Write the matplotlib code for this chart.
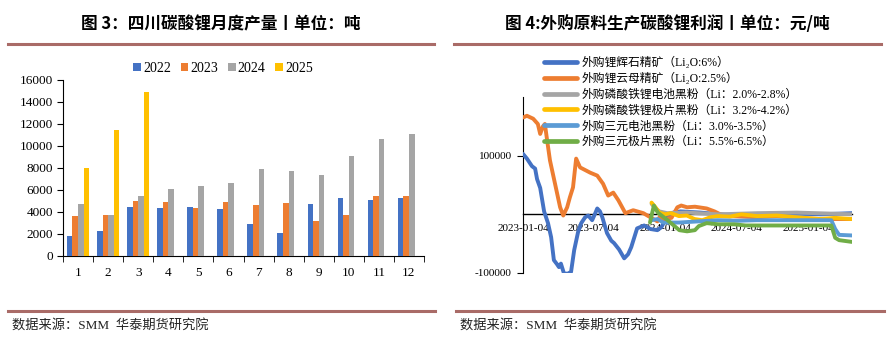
import matplotlib
matplotlib.use("Agg")
import matplotlib.pyplot as plt
import numpy as np
import pandas as pd
from matplotlib.lines import Line2D

# ---------------- data: left chart ----------------
months = list(range(1, 13))
month_labels = [str(m) for m in months]
prod_2022 = [1850, 2250, 4500, 4350, 4450, 4300, 2900, 2050, 4750, 5300, 5100, 5250]
prod_2023 = [3600, 3700, 5000, 4900, 4400, 4950, 4650, 4850, 3200, 3700, 5450, 5500]
prod_2024 = [4700, 3700, 5500, 6100, 6400, 6600, 7900, 7700, 7350, 9050, 10600, 11100]
prod_2025 = [8000, 11500, 14900]
years = ["2022", "2023", "2024", "2025"]

# ---------------- data: right chart ----------------
spod_dates = ["2023-01-04", "2023-01-14", "2023-01-27", "2023-02-04", "2023-02-09", "2023-02-17",
              "2023-02-27", "2023-03-09", "2023-03-17", "2023-03-24", "2023-04-01", "2023-04-06",
              "2023-04-11", "2023-04-19", "2023-04-29", "2023-05-07", "2023-05-15", "2023-05-25",
              "2023-06-02", "2023-06-12", "2023-06-20", "2023-06-30", "2023-07-08", "2023-07-13",
              "2023-07-20", "2023-07-26", "2023-08-07", "2023-08-18", "2023-08-25", "2023-09-07",
              "2023-09-20", "2023-09-30", "2023-10-08", "2023-10-23", "2023-11-10", "2023-11-26",
              "2023-12-14", "2023-12-24", "2024-01-03", "2024-01-16", "2024-02-11", "2024-04-02",
              "2024-05-23", "2024-07-13", "2024-10-24", "2025-02-04", "2025-04-25"]
spod_vals = [103000, 95000, 82000, 78000, 60000, 45000,
             5000, -15000, -39000, -78000, -85000, -90000,
             -84000, -101000, -101000, -98000, -61000, -30000,
             -15000, -5000, -2000, -10000, 2000, 10000,
             5000, -5000, -32000, -45000, -49000, -60000,
             -75000, -68000, -56000, -24000, -19000, -25000,
             -27000, -22000, -10000, 2000, 5000, 3000,
             0, -2000, 2000, 0, 2000]

lepi_dates = ["2023-01-04", "2023-01-14", "2023-01-30", "2023-02-11", "2023-02-17", "2023-02-24",
              "2023-03-01", "2023-03-07", "2023-03-14", "2023-03-27", "2023-04-09", "2023-04-17",
              "2023-04-27", "2023-05-04", "2023-05-12", "2023-05-20", "2023-05-30", "2023-06-25",
              "2023-07-13", "2023-07-28", "2023-08-10", "2023-08-23", "2023-09-05", "2023-09-23",
              "2023-10-13", "2023-11-08", "2023-12-01", "2023-12-14", "2023-12-20", "2023-12-30",
              "2024-01-19", "2024-02-03", "2024-02-13", "2024-02-28", "2024-03-19", "2024-04-18",
              "2024-05-08", "2024-05-23", "2024-06-17", "2024-08-26", "2024-10-15", "2024-12-04",
              "2025-02-02", "2025-04-25"]
lepi_vals = [165000, 168000, 163000, 154000, 137000, 150000,
             154000, 125000, 92000, 52000, 12000, -2000,
             12000, 29000, 46000, 95000, 80000, 71000,
             66000, 52000, 32000, 37000, 24000, 2000,
             7000, 2000, -7000, -12000, -4000, -8000,
             -6000, 12000, 15000, 12000, 13000, 10000,
             5000, 0, -3000, -5000, -3000, -6000,
             -8000, -8000]

lfp_bat_dates = ["2023-11-29", "2023-12-09", "2023-12-19", "2024-01-08", "2024-02-27", "2024-05-18",
                 "2024-08-26", "2024-12-04", "2025-03-14", "2025-04-25"]
lfp_bat_vals = [18000, 10000, 5000, 2000, 3000, 0, 2000, 3000, 1000, 0]

lfp_ele_dates = ["2023-11-29", "2023-12-09", "2023-12-19", "2024-01-03", "2024-01-18", "2024-02-07",
                 "2024-02-27", "2024-03-18", "2024-04-07", "2024-04-27", "2024-05-17", "2024-06-16",
                 "2024-07-16", "2024-08-25", "2024-10-14", "2024-12-03", "2025-02-01", "2025-03-13",
                 "2025-04-25"]
lfp_ele_vals = [20000, 12000, 3000, 0, 2000, -3000,
                -2000, -8000, -10000, -5000, -3000, -4000,
                0, -3000, -2000, -5000, -8000, -6000,
                -8000]

ncm_bat_dates = ["2023-11-29", "2023-12-14", "2023-12-29", "2024-02-07", "2024-03-28", "2024-05-17",
                 "2024-07-06", "2024-08-25", "2024-12-03", "2025-03-03", "2025-03-13", "2025-03-23",
                 "2025-04-25"]
ncm_bat_vals = [-10000, -8000, -14000, -14000, -12000, -10000,
                -11000, -10000, -10000, -10000, -25000, -35000,
                -36000]

ncm_ele_dates = ["2023-11-25", "2023-12-05", "2023-12-15", "2024-01-09", "2024-02-08", "2024-02-28",
                 "2024-03-19", "2024-03-29", "2024-04-18", "2024-05-18", "2024-06-27", "2024-07-27",
                 "2024-08-26", "2024-12-04", "2025-03-03", "2025-03-13", "2025-03-23", "2025-04-25"]
ncm_ele_vals = [-14000, 15000, 3000, -10000, -27000, -29000,
                -27000, -20000, -15000, -17000, -17000, -19000,
                -19000, -19000, -19000, -40000, -44000, -47000]

series_names = ["外购锂辉石精矿（Li₂O:6%）",
                "外购锂云母精矿（Li₂O:2.5%）",
                "外购磷酸铁锂电池黑粉（Li：2.0%-2.8%）",
                "外购磷酸铁锂极片黑粉（Li：3.2%-4.2%）",
                "外购三元电池黑粉（Li：3.0%-3.5%）",
                "外购三元极片黑粉（Li：5.5%-6.5%）"]
xtick_dates = ["2023-01-04", "2023-07-04", "2024-01-04", "2024-07-04", "2025-01-04"]

# ---------------- styling ----------------
C_BLUE = "#4472C4"
C_ORANGE = "#ED7D31"
C_GRAY = "#A5A5A5"
C_YELLOW = "#FFC000"
C_LBLUE = "#5B9BD5"
C_GREEN = "#70AD47"
RED_LINE = "#A96B67"
SERIF = ["Liberation Serif", "Noto Sans CJK SC", "DejaVu Serif"]
CJK_BOLD = ["Noto Sans CJK SC", "DejaVu Sans"]

W, H = 888, 345
fig = plt.figure(figsize=(W / 100, H / 100), dpi=100)

def fx(px):
    return px / W

def fy(py):
    return 1 - py / H

# titles and decorative rules
fig.text(fx(221), fy(24), "图 3：四川碳酸锂月度产量丨单位：吨", ha="center", va="center",
         fontsize=12, fontweight="bold", family=CJK_BOLD)
fig.text(fx(667), fy(24), "图 4:外购原料生产碳酸锂利润丨单位：元/吨", ha="center", va="center",
         fontsize=12, fontweight="bold", family=CJK_BOLD)
for x0, x1 in [(8, 434), (454, 881)]:
    fig.add_artist(Line2D([fx(x0), fx(x1)], [fy(44), fy(44)], color=RED_LINE, lw=2.2))
for x0, x1 in [(8, 435), (456, 884)]:
    fig.add_artist(Line2D([fx(x0), fx(x1)], [fy(311), fy(311)], color=RED_LINE, lw=2.2))
fig.text(fx(12), fy(326), "数据来源：SMM  华泰期货研究院", ha="left", va="center",
         fontsize=9.5, family=SERIF, color="#222222")
fig.text(fx(460), fy(326), "数据来源：SMM  华泰期货研究院", ha="left", va="center",
         fontsize=9.5, family=SERIF, color="#222222")

# ---------------- left chart ----------------
axL = fig.add_axes([fx(63), fy(256), fx(424) - fx(63), fy(80) - fy(256)])
xpos = np.array(months, dtype=float)
bw = 0.185
offsets = [-1.5 * bw, -0.5 * bw, 0.5 * bw, 1.5 * bw]
colors = [C_BLUE, C_ORANGE, C_GRAY, C_YELLOW]
datas = [prod_2022, prod_2023, prod_2024, prod_2025]
for off, col, dat, yr in zip(offsets, colors, datas, years):
    axL.bar(xpos[:len(dat)] + off, dat, width=bw, color=col, label=yr, zorder=3)
axL.set_xlim(0.5, 12.5)
axL.set_ylim(0, 16000)
axL.set_yticks(np.arange(0, 16001, 2000))
axL.set_xticks(xpos)
axL.set_xticklabels(month_labels)
axL.set_xticks(np.arange(0.5, 12.6, 1), minor=True)
axL.tick_params(axis="x", which="major", length=0, pad=8)
axL.tick_params(axis="x", which="minor", length=4, direction="out", color="black")
axL.tick_params(axis="y", length=4, direction="out", pad=3)
for lab in axL.get_xticklabels() + axL.get_yticklabels():
    lab.set_family(SERIF)
    lab.set_fontsize(9.5)
for s in ["top", "right"]:
    axL.spines[s].set_visible(False)
for s in ["left", "bottom"]:
    axL.spines[s].set_color("black")
    axL.spines[s].set_linewidth(0.8)
axL.legend(loc="upper center", bbox_to_anchor=(fx(223), fy(62)), bbox_transform=fig.transFigure,
           ncol=4, frameon=False, prop={"family": SERIF, "size": 10},
           handlelength=0.55, handleheight=0.55, handletextpad=0.15, columnspacing=0.7,
           borderpad=0, borderaxespad=0)

# ---------------- right chart ----------------
axR = fig.add_axes([fx(523), fy(273), fx(852) - fx(523), fy(97) - fy(273)])
series = [(spod_dates, spod_vals, C_BLUE),
          (lepi_dates, lepi_vals, C_ORANGE),
          (lfp_bat_dates, lfp_bat_vals, C_GRAY),
          (lfp_ele_dates, lfp_ele_vals, C_YELLOW),
          (ncm_bat_dates, ncm_bat_vals, C_LBLUE),
          (ncm_ele_dates, ncm_ele_vals, C_GREEN)]
handles = []
for (d, v, col), name in zip(series, series_names):
    ln, = axR.plot(pd.to_datetime(d), v, color=col, lw=2.8, solid_joinstyle="round",
                   solid_capstyle="round", label=name, zorder=3)
    handles.append(ln)
axR.set_xlim(pd.Timestamp("2023-01-04"), pd.Timestamp("2025-04-25"))
axR.set_ylim(-100000, 200000)
axR.set_yticks([-100000, 100000])
axR.set_yticklabels(["-100000", "100000"])
axR.set_xticks(pd.to_datetime(xtick_dates))
axR.set_xticklabels(xtick_dates)
axR.spines["bottom"].set_position(("data", 0))
axR.spines["bottom"].set_color("black")
axR.spines["bottom"].set_linewidth(1.0)
axR.spines["left"].set_color("black")
axR.spines["left"].set_linewidth(0.8)
for s in ["top", "right"]:
    axR.spines[s].set_visible(False)
axR.tick_params(axis="x", length=0, pad=7)
axR.tick_params(axis="y", length=4, direction="out", pad=4)
axR.set_axisbelow(True)
for lab in axR.get_xticklabels() + axR.get_yticklabels():
    lab.set_family(SERIF)
    lab.set_fontsize(8)
axR.legend(handles=handles, loc="upper left", bbox_to_anchor=(fx(544), fy(57)),
           bbox_transform=fig.transFigure, frameon=False,
           prop={"family": SERIF, "size": 8.5}, handlelength=2.8, handletextpad=0.35,
           labelspacing=0.32, borderpad=0, borderaxespad=0)
for h in axR.get_legend().get_lines():
    h.set_linewidth(3.4)

fig.savefig("out.png", dpi=100)
